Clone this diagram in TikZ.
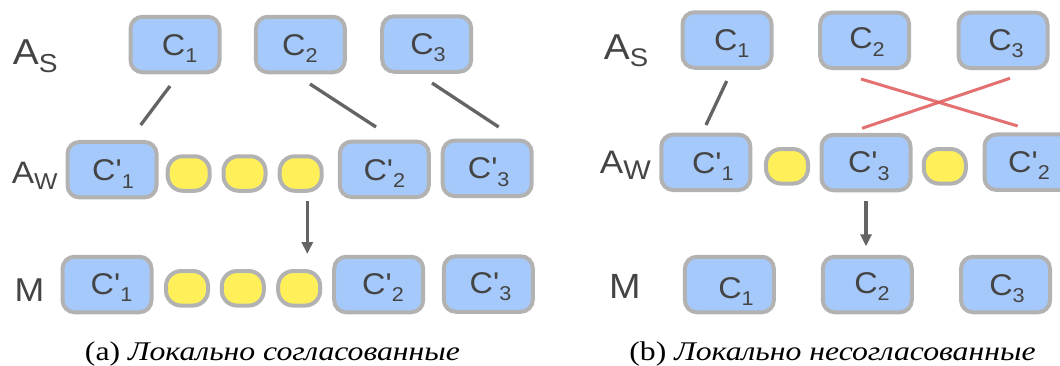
\documentclass[tikz,border=0pt]{standalone}
\usepackage{fontspec}
\setmainfont{Liberation Serif}
\newfontfamily\capfont{Liberation Serif}[FakeStretch=1.175]
\newfontfamily\lab{Liberation Sans}[FakeStretch=1.08,Ligatures=TeXOff]
\usetikzlibrary{arrows.meta}
\definecolor{boxblue}{RGB}{166,201,252}
\definecolor{boxgray}{RGB}{178,178,178}
\definecolor{dotyel}{RGB}{255,240,90}
\definecolor{lingray}{RGB}{100,100,100}
\definecolor{txtgray}{RGB}{68,68,68}
\definecolor{crossred}{RGB}{224,98,98}
\newcommand\bt[3]{\raisebox{-#2pt}[0pt][0pt]{\makebox[0pt]{\kern#1pt\kern#1pt #3}}}
\newcommand\sbs[1]{\raisebox{-7.3pt}{\fontsize{20}{24}\selectfont #1}}
\tikzset{
  cbox/.style={draw=boxgray, line width=4pt, fill=boxblue, rounded corners=12pt,
    minimum width=89pt, minimum height=55.5pt, inner sep=0pt, text=txtgray,
    font=\lab\fontsize{30}{36}\selectfont},
  ybox/.style={draw=boxgray, line width=4pt, fill=dotyel, rounded corners=15pt,
    minimum width=42pt, minimum height=34.5pt, inner sep=0pt},
  lbl/.style={inner sep=0pt, text=txtgray, font=\lab, anchor=base west},
  conn/.style={draw=lingray, line width=3.3pt},
  arr/.style={conn, -{Triangle[length=12pt,width=11pt]}},
  xline/.style={draw=crossred, line width=3pt, opacity=0.9},
  captxt/.style={inner sep=0pt, anchor=base, font=\capfont\fontsize{27}{32}\selectfont}
}
\begin{document}
\begin{tikzpicture}[x=1pt,y=-1pt]
\useasboundingbox (0,0) rectangle (1060,365);
\clip (0,0) rectangle (1060,365);
% ---------- (a) ----------
\node[lbl] (laS) at (12.7,64) {{\fontsize{36}{40}\selectfont A}\raisebox{-8.7pt}{\fontsize{26}{30}\selectfont S}};
\node[lbl] (laW) at (11.7,183.3) {{\fontsize{31}{36}\selectfont A}\raisebox{-6pt}{\fontsize{23}{28}\selectfont W}};
\node[lbl] (laM) at (14.5,301.7) {\fontsize{33}{38}\selectfont M};

\node[cbox] (las1) at (175,44.5) {\bt{4.7}{10.5}{C\sbs{1}}};
\node[cbox] (las2) at (300.4,44.5) {\bt{-0.5}{10.5}{C\sbs{2}}};
\node[cbox] (las3) at (426.7,44) {\bt{1.3}{10.3}{C\sbs{3}}};

\node[cbox] (law1) at (112,169.7) {\bt{1}{11}{C'\sbs{1}}};
\node[ybox] (lawy1) at (188.7,173.5) {};
\node[ybox] (lawy2) at (244.5,173.5) {};
\node[ybox] (lawy3) at (300.7,173.5) {};
\node[cbox] (law2) at (384.3,169.3) {\bt{0}{11}{C'\sbs{2}}};
\node[cbox] (law3) at (487.2,168.3) {\bt{1.5}{10.5}{C'\sbs{3}}};

\node[cbox] (lm1) at (107,284.5) {\bt{4.5}{9.5}{C'\sbs{1}}};
\node[ybox] (lmy1) at (187,288.3) {};
\node[ybox] (lmy2) at (242.8,288.3) {};
\node[ybox] (lmy3) at (299.2,288.3) {};
\node[cbox] (lm2) at (378.7,284.5) {\bt{4.3}{9.5}{C'\sbs{2}}};
\node[cbox] (lm3) at (488.3,284) {\bt{2.2}{9.5}{C'\sbs{3}}};

\coordinate (l1a) at (170,86);    \coordinate (l1b) at (140.7,125);
\coordinate (l2a) at (310,84);    \coordinate (l2b) at (376,127);
\coordinate (l3a) at (432,83);    \coordinate (l3b) at (498.7,127);
\draw[conn] (l1a) -- (l1b);
\draw[conn] (l2a) -- (l2b);
\draw[conn] (l3a) -- (l3b);
\coordinate (qa1) at (307.3,200.7); \coordinate (qa2) at (307.3,254);
\draw[arr] (qa1) -- (qa2);

\node[captxt] (capa) at (272.5,360) {(a) \textit{Локально согласованные}};

% ---------- (b) ----------
\node[lbl] (raS) at (603.7,59.3) {{\fontsize{36}{40}\selectfont A}\raisebox{-6.7pt}{\fontsize{25.5}{30}\selectfont S}};
\node[lbl] (raW) at (599.7,173.3) {{\fontsize{32.5}{38}\selectfont A}\raisebox{-5.7pt}{\fontsize{27}{32}\selectfont W}};
\node[lbl] (raM) at (608.8,298.3) {\fontsize{35}{40}\selectfont M};

\node[cbox] (ras1) at (727,40) {\bt{4.7}{10}{C\sbs{1}}};
\node[cbox] (ras2) at (864.7,40.3) {\bt{2.3}{8.5}{C\sbs{2}}};
\node[cbox] (ras3) at (1003,40.3) {\bt{3}{10}{C\sbs{3}}};

\node[cbox] (raw1) at (705.8,162.3) {\bt{7}{11}{C'\sbs{1}}};
\node[ybox] (rawy1) at (787,166.3) {};
\node[cbox] (raw3) at (866,162.5) {\bt{2.8}{10.4}{C'\sbs{3}}};
\node[ybox] (rawy2) at (944.8,166.3) {};
\node[cbox] (raw2) at (1029,162.2) {\bt{0}{10.2}{C'\sbs{2}}};

\node[cbox] (rm1) at (729.4,284.5) {\bt{6.6}{13.5}{C\sbs{1}}};
\node[cbox] (rm2) at (867.3,284.5) {\bt{4.7}{8.8}{C\sbs{2}}};
\node[cbox] (rm3) at (1005.5,284.5) {\bt{1.5}{10.5}{C\sbs{3}}};

\coordinate (r1a) at (726.7,81);  \coordinate (r1b) at (706,125);
\draw[conn] (r1a) -- (r1b);
\coordinate (x1a) at (861,79);    \coordinate (x1b) at (1017.7,126);
\coordinate (x2a) at (1010,78.3); \coordinate (x2b) at (862,128.3);
\draw[xline] (x1a) -- (x1b);
\draw[xline] (x2a) -- (x2b);
\draw[arr, shorten <=8.75pt, shorten >=8.45pt] (raw3.south) -- (raw3.south |- rm2.north);

\node[captxt] (capb) at (832.5,360) {(b) \textit{Локально несогласованные}};
\end{tikzpicture}
\end{document}
